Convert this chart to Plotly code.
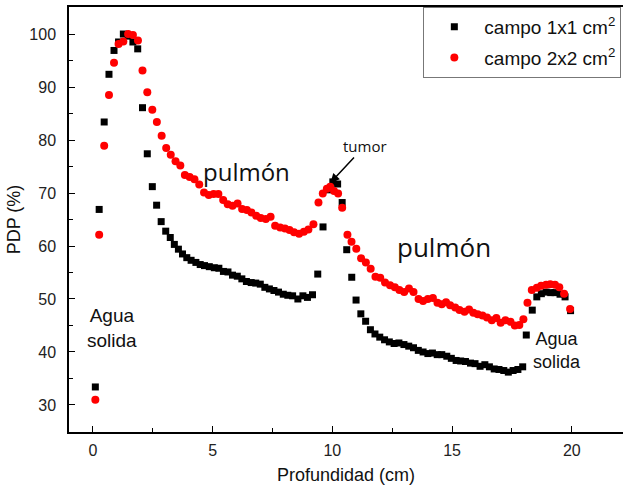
import plotly.graph_objects as go

# Campo 1x1 cm2 (black squares)
x_1x1 = [0.10, 0.26, 0.47, 0.67, 0.88, 1.07, 1.27, 1.47, 1.67, 1.87, 2.07, 2.27, 2.48, 2.66, 2.85,
         3.04, 3.23, 3.40, 3.57, 3.74, 3.92, 4.10, 4.30, 4.48, 4.66, 4.86, 5.07, 5.26, 5.45, 5.64,
         5.83, 6.03, 6.22, 6.41, 6.61, 6.80, 6.99, 7.18, 7.37, 7.56, 7.75, 7.95, 8.14, 8.34, 8.56,
         8.77, 8.96, 9.17, 9.39, 9.61, 9.82, 10.02, 10.22, 10.41, 10.60, 10.81, 10.99, 11.19, 11.39,
         11.59, 11.78, 11.98, 12.18, 12.38, 12.58, 12.78, 12.99, 13.19, 13.39, 13.59, 13.79, 13.99,
         14.18, 14.38, 14.57, 14.78, 14.97, 15.17, 15.36, 15.56, 15.77, 15.96, 16.17, 16.37, 16.56,
         16.76, 16.96, 17.16, 17.35, 17.55, 17.75, 17.95, 18.10, 18.35, 18.54, 18.73, 18.93, 19.12,
         19.30, 19.51, 19.72, 19.95]
y_1x1 = [33.4, 66.9, 83.4, 92.4, 96.9, 98.5, 100.0, 99.6, 98.5, 97.2, 86.1, 77.4, 71.2, 67.7, 64.6,
         62.8, 61.6, 60.3, 59.4, 58.5, 57.8, 57.3, 56.9, 56.5, 56.3, 56.1, 55.9, 55.8, 55.2, 55.1,
         54.5, 54.3, 53.8, 53.3, 53.1, 53.0, 52.8, 52.2, 51.9, 51.6, 51.3, 50.9, 50.7, 50.6, 50.0,
         50.6, 50.3, 50.8, 54.7, 63.6, 70.6, 72.1, 71.7, 68.2, 59.3, 54.1, 49.8, 47.2, 45.8,
         44.2, 43.4, 42.8, 42.3, 41.9, 41.6, 41.7, 41.4, 41.1, 40.8, 40.3, 40.0, 39.7,
         39.8, 39.5, 39.5, 39.2, 38.8, 38.4, 38.3, 38.2, 37.9, 37.8, 37.3, 37.6, 37.2,
         36.8, 36.7, 36.5, 36.2, 36.5, 36.7, 37.2, 43.2, 47.9, 50.4, 51.0, 51.3, 51.2,
         51.2, 50.9, 50.4, 47.8]

# Campo 2x2 cm2 (red circles)
x_2x2 = [0.10, 0.26, 0.47, 0.67, 0.88, 1.07, 1.27, 1.47, 1.67, 1.88, 2.07, 2.27, 2.48, 2.67, 2.87,
         3.06, 3.25, 3.45, 3.65, 3.84, 4.04, 4.24, 4.44, 4.64, 4.84, 5.04, 5.24, 5.44, 5.63, 5.83,
         6.04, 6.23, 6.43, 6.62, 6.82, 7.01, 7.22, 7.42, 7.61, 7.82, 8.02, 8.21, 8.40, 8.61, 8.81,
         9.00, 9.21, 9.42, 9.60, 9.77, 9.91, 10.07, 10.24, 10.41, 10.63, 10.80, 11.00, 11.20, 11.40,
         11.60, 11.80, 12.00, 12.20, 12.41, 12.61, 12.80, 13.00, 13.20, 13.39, 13.60, 13.79, 13.99,
         14.20, 14.39, 14.57, 14.75, 14.92, 15.13, 15.31, 15.52, 15.71, 15.89, 16.07, 16.27, 16.46,
         16.66, 16.85, 17.03, 17.23, 17.44, 17.62, 17.81, 17.98, 18.15, 18.33, 18.54, 18.72, 18.93,
         19.10, 19.30, 19.48, 19.68, 19.93]
y_2x2 = [31.0, 62.1, 78.9, 88.5, 94.6, 98.1, 98.6, 100.0, 99.8, 98.8, 93.1, 89.0, 85.7, 83.4, 80.8,
         78.5, 77.2, 76.0, 75.2, 73.4, 73.0, 72.6, 71.6, 70.1, 69.6, 69.8, 69.8, 68.7, 67.9, 67.6,
         68.0, 67.0, 66.8, 66.3, 65.7, 65.3, 65.1, 65.5, 63.8, 63.5, 63.3, 63.0, 62.6, 62.3, 62.7,
         63.1, 64.1, 68.2, 69.9, 70.8, 71.2, 70.4, 69.9, 67.2, 62.1, 60.8, 59.5, 57.7, 56.9,
         55.7, 54.2, 54.0, 53.1, 52.6, 52.2, 51.7, 51.3, 52.0, 51.3, 50.0, 49.6, 50.0,
         50.2, 49.3, 49.0, 49.4, 48.8, 48.4, 47.9, 47.6, 48.0, 47.4, 47.1, 46.9, 46.5,
         46.0, 46.4, 45.5, 46.0, 45.7, 45.0, 45.1, 46.2, 49.3, 51.7, 52.1, 52.5, 52.7,
         52.8, 52.7, 52.2, 51.0, 48.1]

x_ticks = [0, 5, 10, 15, 20]
y_ticks = [30, 40, 50, 60, 70, 80, 90, 100]

ARIAL = "Liberation Sans, Arial, sans-serif"
CAL = "Open Sans, Noto Sans, sans-serif"

fig = go.Figure()
fig.add_trace(go.Scatter(
    x=x_1x1, y=y_1x1, mode="markers", name="campo 1x1 cm<sup>2</sup>",
    marker=dict(symbol="square", size=7, color="black"), legendgroup="a"))
fig.add_trace(go.Scatter(
    x=x_2x2, y=y_2x2, mode="markers", name="campo 2x2 cm<sup>2</sup>",
    marker=dict(symbol="circle", size=8, color="#ff0000"), legendgroup="b"))

axis_common = dict(
    showline=True, linecolor="black", linewidth=1.5,
    ticks="inside", ticklen=6, tickwidth=1.2, tickcolor="black",
    showgrid=False, zeroline=False,
    tickfont=dict(family=ARIAL, size=16, color="#222"),
    title_font=dict(family=ARIAL, size=18, color="#111"),
)

fig.update_xaxes(
    range=[-1.0, 22.14], tickvals=x_ticks, mirror=True,
    minor=dict(dtick=2.5, tick0=0, ticks="inside", ticklen=4, tickwidth=1.2, tickcolor="black"),
    title_text="Profundidad (cm)", title_standoff=10, ticklabelstandoff=3,
    **axis_common)
fig.update_yaxes(
    range=[24.9, 105.1], tickvals=y_ticks, mirror=False,
    minor=dict(dtick=5, tick0=0, ticks="inside", ticklen=4, tickwidth=1.2, tickcolor="black"),
    title_text="PDP (%)", title_standoff=4, ticklabelstandoff=8,
    **axis_common)

annotations = [
    dict(x=6.40, y=74.0, text="pulmón", showarrow=False,
         font=dict(family=CAL, size=24, color="#111")),
    dict(x=14.67, y=59.8, text="pulmón", showarrow=False,
         font=dict(family=CAL, size=26, color="#111")),
    dict(x=0.79, y=44.5, text="Agua<br>solida", showarrow=False, align="center",
         font=dict(family=ARIAL, size=19, color="#111")),
    dict(x=19.39, y=40.2, text="Agua<br>solida", showarrow=False, align="center",
         font=dict(family=ARIAL, size=18, color="#111")),
    dict(x=9.92, y=71.95, ax=34.3, ay=-36.7, text="tumor", showarrow=True,
         arrowhead=2, arrowsize=1.2, arrowwidth=1.5, arrowcolor="black",
         font=dict(family=CAL, size=15, color="#111")),
]

fig.update_layout(
    width=623, height=490,
    margin=dict(l=69, r=0, t=7, b=58, autoexpand=False),
    paper_bgcolor="white", plot_bgcolor="white",
    showlegend=True,
    legend=dict(x=0.997, y=1.0, xanchor="right", yanchor="top",
                bordercolor="#777", borderwidth=1, bgcolor="white",
                font=dict(family=ARIAL, size=19, color="#111"),
                itemwidth=50,
                traceorder="grouped", tracegroupgap=3),
    annotations=annotations,
)

fig.write_html("out.html")
